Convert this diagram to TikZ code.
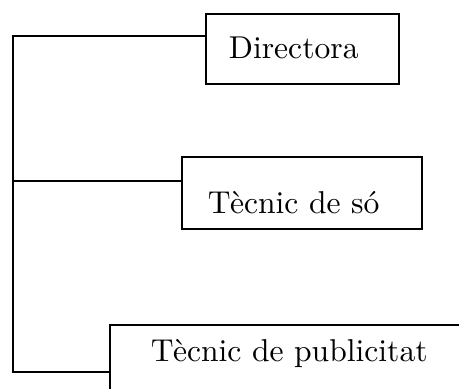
\documentclass[tikz,border=0pt]{standalone}
\usepackage{fontspec}
\newcommand{\bigtext}[1]{\scalebox{3.16}{#1}}
\begin{document}
\begin{tikzpicture}[x=1pt, y=-1pt,
  unit/.style={draw, line width=1.8pt, inner ysep=0pt, align=left,
    font=\fontsize{10}{12}\selectfont},
  link/.style={line width=1.8pt}]
\clip (0,0) rectangle (459,389);

% Boxes
\node[unit, anchor=north west, inner xsep=23pt, text width=147pt,
  text height=45pt, text depth=25pt] (dir) at (205,13) {\bigtext{Directora}};
\node[unit, anchor=north west, inner xsep=26pt, text width=188pt,
  text height=57pt, text depth=15pt] (so) at (181,156) {\bigtext{Tècnic de só}};
\node[unit, anchor=north west, inner xsep=41pt, text width=330pt,
  text height=37pt, text depth=40pt] (pub) at (109,324) {\bigtext{Tècnic de publicitat}};

% Trunk
\coordinate (top) at (13,36);
\coordinate (mid) at (13,181);
\coordinate (bot) at (13,372);

% Connectors
\draw[link] (dir.west |- top) -- (top) -- (bot) -- (pub.west |- bot);
\draw[link] (mid) -- (so.west |- mid);

\end{tikzpicture}
\end{document}
